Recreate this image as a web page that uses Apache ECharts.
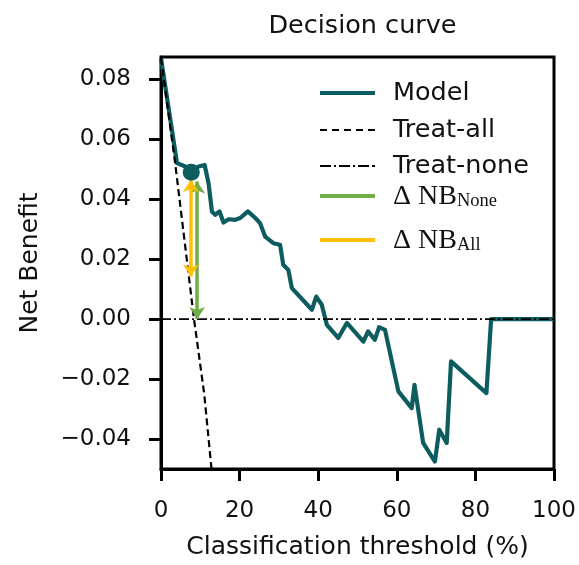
<!DOCTYPE html>
<html>
<head>
<meta charset="utf-8">
<script src="https://cdn.jsdelivr.net/npm/echarts@6/dist/echarts.min.js"></script>
<style>
  html, body { margin: 0; padding: 0; background: #fff; }
  #chart { width: 579px; height: 565px; }
</style>
</head>
<body>
<div id="chart"></div>
<script>
// Decision curve: net benefit of the model vs. treat-all / treat-none strategies
const thresholds = [0, 4.07, 4.5, 6.2, 7.7, 9.55, 11.1, 12.1, 12.96, 13.8, 14.9, 15.9, 17.2, 18.9, 20.15, 22.1, 24.0, 25.2, 26.5, 28.6, 30.3, 31.1, 32.4, 33.3, 38.4, 39.5, 40.9, 42.2, 45.1, 47.3, 51.5, 52.7, 54.4, 55.5, 57.0, 60.4, 63.8, 64.5, 66.7, 69.7, 70.8, 72.7, 73.8, 82.8, 84.0, 100];
const modelNB = [0.087, 0.052, 0.0514, 0.0509, 0.049, 0.0509, 0.0514, 0.0453, 0.0359, 0.0348, 0.0359, 0.0322, 0.0333, 0.0331, 0.0337, 0.0359, 0.0337, 0.032, 0.0275, 0.0253, 0.0248, 0.0181, 0.0164, 0.0103, 0.0031, 0.0075, 0.0048, -0.0019, -0.0063, -0.0013, -0.0075, -0.0041, -0.0069, -0.0027, -0.0036, -0.0241, -0.0297, -0.0219, -0.0413, -0.0475, -0.0369, -0.0413, -0.0141, -0.0247, 0.0, 0.0];

const treatAllX = [0, 3.6, 8.4, 11, 13, 14];
const treatAllNB = [0.087, 0.052, 0.0, -0.025, -0.052, -0.064];

const treatNoneX = [0, 100];
const treatNoneNB = [0, 0];

// highlighted threshold and the two net-benefit differences
const focusPoint = [7.7, 0.049];
const deltaNoneX = 9.2;
const deltaNoneRange = [0.0459, 0.0];
const deltaAllX = 7.6;
const deltaAllRange = [0.0464, 0.0142];

const xTicks = [0, 20, 40, 60, 80, 100];
const yTicks = [-0.04, -0.02, 0.0, 0.02, 0.04, 0.06, 0.08];

const TEAL = '#0d5c60';
const GREEN = '#70ad47';
const GOLD = '#ffc000';
const SANS = 'DejaVu Sans';
const SERIF = 'Liberation Serif';

// legend glyphs drawn as filled paths (solid, dashed, dash-dot)
const ICON_SOLID = 'path://M0 0H55V4H0Z';
const ICON_DASH = 'path://M0 0H7V2H0Z M12 0H19V2H12Z M24 0H31V2H24Z M36 0H43V2H36Z M48 0H55V2H48Z';
const ICON_DASHDOT = 'path://M0 0H11V2H0Z M14 0H16V2H14Z M19 0H30V2H19Z M33 0H35V2H33Z M38 0H49V2H38Z M52 0H55V2H52Z';
const ICON_BAR = 'path://M0 0H55V4H0Z';

const zip = (xs, ys) => xs.map((x, i) => [x, ys[i]]);

const chart = echarts.init(document.getElementById('chart'), null, { renderer: 'canvas' });

const legendBase = {
  orient: 'vertical',
  left: 320,
  padding: 0,
  itemWidth: 55,
  itemStyle: { borderWidth: 0 },
  textStyle: { fontFamily: SANS, fontSize: 25.5, color: '#111', padding: [0, 0, 0, 13] }
};

const deltaRich = {
  m: { fontFamily: SERIF, fontSize: 28, color: '#111', lineHeight: 30, verticalAlign: 'bottom' },
  s: { fontFamily: SERIF, fontSize: 18.5, color: '#111', lineHeight: 18, verticalAlign: 'bottom' }
};

const option = {
  animation: false,
  backgroundColor: '#fff',
  title: {
    text: 'Decision curve',
    left: 357.5,
    textAlign: 'center',
    top: 8,
    textStyle: { fontFamily: SANS, fontSize: 25.5, fontWeight: 'normal', color: '#111' }
  },
  grid: {
    left: 161, right: 25, top: 57, bottom: 95,
    show: true, borderColor: '#000', borderWidth: 3, backgroundColor: 'transparent'
  },
  xAxis: {
    type: 'value', min: 0, max: 100, interval: 20,
    name: 'Classification threshold (%)',
    nameLocation: 'middle', nameGap: 66,
    nameTextStyle: { fontFamily: SANS, fontSize: 25, color: '#111' },
    axisLine: { onZero: false, lineStyle: { color: '#000', width: 3 } },
    axisTick: { show: true, inside: false, length: 12, lineStyle: { color: '#000', width: 3 } },
    axisLabel: { fontFamily: SANS, fontSize: 23, color: '#111', margin: 31,
      customValues: xTicks, formatter: v => String(v) },
    splitLine: { show: false }
  },
  yAxis: {
    type: 'value', min: -0.05, max: 0.0874,
    name: 'Net Benefit',
    nameLocation: 'middle', nameGap: 118, nameRotate: 90,
    nameTextStyle: { fontFamily: SANS, fontSize: 25, color: '#111' },
    axisLine: { lineStyle: { color: '#000', width: 3 } },
    axisTick: { show: true, inside: false, length: 12, customValues: yTicks, lineStyle: { color: '#000', width: 3 } },
    axisLabel: { fontFamily: SANS, fontSize: 23, color: '#111', margin: 30,
      customValues: yTicks,
      formatter: v => (v < 0 ? '\u2212' : '') + Math.abs(v).toFixed(2) },
    splitLine: { show: false }
  },
  legend: [
    Object.assign({}, legendBase, { top: 80, itemHeight: 4, data: [{ name: 'Model', icon: ICON_SOLID }] }),
    Object.assign({}, legendBase, { top: 117, itemHeight: 2, data: [{ name: 'Treat-all', icon: ICON_DASH }] }),
    Object.assign({}, legendBase, { top: 153, itemHeight: 2, data: [{ name: 'Treat-none', icon: ICON_DASHDOT }] }),
    Object.assign({}, legendBase, {
      top: 183, itemHeight: 4,
      data: [{ name: 'dNone', icon: ICON_BAR }],
      formatter: () => '{m|\u0394 NB}{s|None}',
      textStyle: Object.assign({}, legendBase.textStyle, { rich: deltaRich })
    }),
    Object.assign({}, legendBase, {
      top: 227, itemHeight: 4,
      data: [{ name: 'dAll', icon: ICON_BAR }],
      formatter: () => '{m|\u0394 NB}{s|All}',
      textStyle: Object.assign({}, legendBase.textStyle, { rich: deltaRich })
    })
  ],
  series: [
    {
      name: 'Model', type: 'line', symbol: 'none', z: 2,
      data: zip(thresholds, modelNB),
      lineStyle: { color: TEAL, width: 4.2, join: 'round' },
      itemStyle: { color: TEAL }
    },
    {
      name: 'Treat-all', type: 'line', symbol: 'none', z: 3,
      data: zip(treatAllX, treatAllNB),
      lineStyle: { color: '#000', width: 2.2, type: [7, 4] },
      itemStyle: { color: '#000' }
    },
    {
      name: 'Treat-none', type: 'line', symbol: 'none', z: 3,
      data: zip(treatNoneX, treatNoneNB),
      lineStyle: { color: '#000', width: 1.8, type: [10, 3, 2, 3] },
      itemStyle: { color: '#000' }
    },
    {
      name: 'dNone', type: 'lines', coordinateSystem: 'cartesian2d', z: 4,
      symbol: ['arrow', 'arrow'], symbolSize: 12,
      lineStyle: { color: GREEN, width: 3.5, opacity: 1 },
      itemStyle: { color: GREEN },
      data: [{ coords: [[deltaNoneX, deltaNoneRange[0]], [deltaNoneX, deltaNoneRange[1]]] }]
    },
    {
      name: 'dAll', type: 'lines', coordinateSystem: 'cartesian2d', z: 4,
      symbol: ['arrow', 'arrow'], symbolSize: 12,
      lineStyle: { color: GOLD, width: 3.5, opacity: 1 },
      itemStyle: { color: GOLD },
      data: [{ coords: [[deltaAllX, deltaAllRange[0]], [deltaAllX, deltaAllRange[1]]] }]
    },
    {
      name: 'focus', type: 'scatter', z: 5,
      symbol: 'circle', symbolSize: 17,
      itemStyle: { color: TEAL, opacity: 1 },
      data: [focusPoint]
    }
  ]
};

chart.setOption(option);
</script>
</body>
</html>
